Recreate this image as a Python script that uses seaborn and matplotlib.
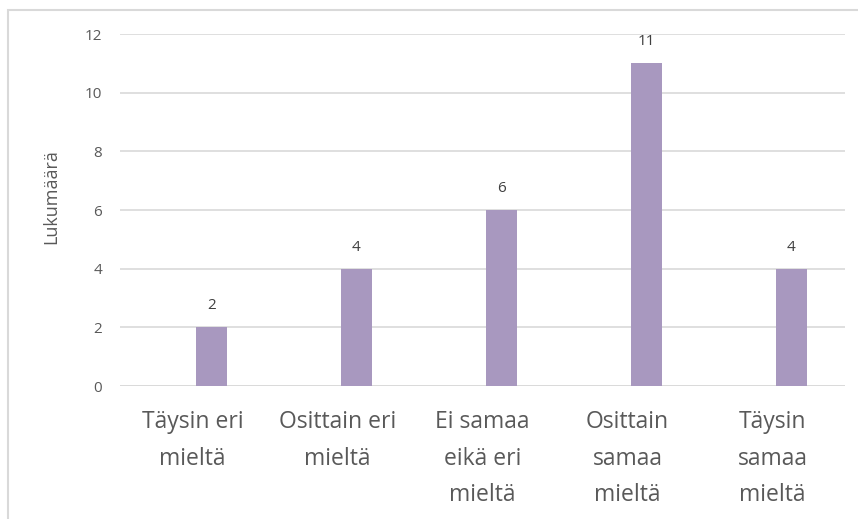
import matplotlib
matplotlib.use("Agg")
import matplotlib.pyplot as plt
import matplotlib.patches as mpatches
import seaborn as sns
import pandas as pd
import numpy as np

categories = ["Täysin eri\nmieltä", "Osittain eri\nmieltä", "Ei samaa\neikä eri\nmieltä",
              "Osittain\nsamaa\nmieltä", "Täysin\nsamaa\nmieltä"]
counts = [2, 4, 6, 11, 4]
series_names = ["Sarja1", "Lukumäärä"]
y_ticks = [0, 2, 4, 6, 8, 10, 12]

bar_color = "#A898BF"
grid_color = "#D9D9D9"
text_color = "#595959"
label_color = "#404040"

sns.set_theme(style="white")
plt.rcParams["font.family"] = ["Open Sans", "DejaVu Sans"]

# Clustered layout: the first series is empty, so the bars sit right of each slot centre
df = pd.DataFrame({
    "kategoria": categories * 2,
    "sarja": [series_names[0]] * len(categories) + [series_names[1]] * len(categories),
    "arvo": [np.nan] * len(categories) + counts,
})

fig = plt.figure(figsize=(8.58, 5.19), dpi=100)
ax = fig.add_axes([120 / 858, 133 / 519, 725 / 858, 352 / 519])

sns.barplot(data=df, x="kategoria", y="arvo", hue="sarja", hue_order=series_names,
            order=categories, palette=["#FFFFFF", bar_color], width=0.52, gap=0.19,
            legend=False, ax=ax, errorbar=None, saturation=1, linewidth=0)

ax.set_ylim(0, 12)
ax.set_xlim(-0.5, len(categories) - 0.5)
ax.set_yticks(y_ticks)
ax.set_yticklabels([str(t) for t in y_ticks])
ax.yaxis.grid(True, color=grid_color, linewidth=1.2)
ax.set_axisbelow(True)
for side in ["top", "right", "left", "bottom"]:
    ax.spines[side].set_visible(False)
ax.axhline(0, color=grid_color, linewidth=1.2, zorder=0.5)

ax.tick_params(axis="y", length=0, pad=13, labelsize=11, labelcolor=text_color)
ax.tick_params(axis="x", length=0, pad=17.5, labelsize=16.5, labelcolor=text_color)
for lbl in ax.get_xticklabels():
    lbl.set_linespacing(1.68)
    lbl.set_verticalalignment("top")

ax.set_xlabel("")
ax.set_ylabel("Lukumäärä", fontsize=13, color=text_color)
ax.yaxis.set_label_coords(-0.083, 0.537)

for cont in ax.containers:
    for patch in cont:
        h = patch.get_height()
        if np.isfinite(h) and h > 0:
            ax.annotate(f"{int(h)}", (patch.get_x() + patch.get_width() / 2, h),
                        xytext=(0, 10), textcoords="offset points",
                        ha="center", va="bottom", fontsize=11, color=label_color)

# Chart area border
fig.patches.append(mpatches.Rectangle((8 / 858, -0.1), 1.2, (519 - 10) / 519 + 0.1,
                                      transform=fig.transFigure, fill=False,
                                      edgecolor=grid_color, linewidth=1.5))

fig.savefig("out.png", dpi=100)
